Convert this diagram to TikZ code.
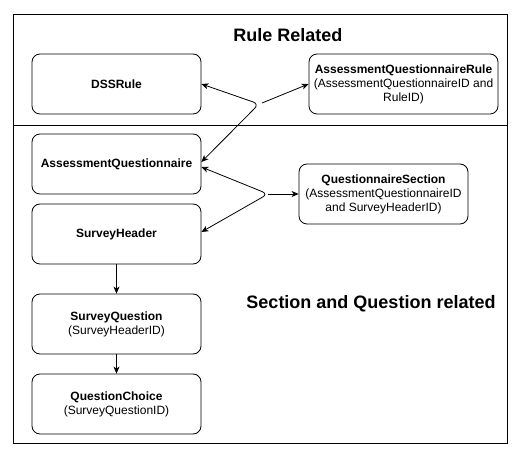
\documentclass[tikz,border=0pt]{standalone}
\usepackage{fontspec}
\setmainfont{Liberation Sans}
\usetikzlibrary{arrows.meta}
\begin{document}
\begin{tikzpicture}[x=1pt,y=-1pt,
  entity/.style={draw, rounded corners=8pt, minimum width=169pt, minimum height=60pt,
    align=center, font=\fontsize{12}{14}\selectfont, inner sep=2pt, line width=0.8pt},
  conn/.style={line width=0.8pt, -{Stealth[length=7pt,width=6pt,inset=2pt]}},
  title/.style={font=\fontsize{18}{21}\selectfont\bfseries}]
\useasboundingbox (0,0) rectangle (528,462);
\draw[line width=0.8pt] (13,14) rectangle (507,443);
\draw[line width=0.8pt] (13,125) -- (507,125);
\node[title] (t1) at (288,35) {Rule Related};
\node[title] (t2) at (371,304) {Section and Question related};
\node[entity] (dss) at (116.5,84) {\textbf{DSSRule}};
\node[entity, minimum width=189pt] (aqr) at (403.5,84) {\textbf{AssessmentQuestionnaireRule}\\(AssessmentQuestionnaireID and\\RuleID)};
\node[entity] (aq) at (116.5,164) {\textbf{AssessmentQuestionnaire}};
\node[entity] (sh) at (116.5,234) {\textbf{SurveyHeader}};
\node[entity] (sq) at (116.5,324) {\textbf{SurveyQuestion}\\(SurveyHeaderID)};
\node[entity] (qc) at (116.5,404) {\textbf{QuestionChoice}\\(SurveyQuestionID)};
\node[entity] (qs) at (383.5,194) {\textbf{QuestionnaireSection}\\(AssessmentQuestionnaireID\\and SurveyHeaderID)};
\coordinate (j1) at (259,104);
\coordinate (j1b) at (262,103);
\coordinate (j2) at (268,194);
\draw[conn, {Stealth[length=7pt,width=6pt,inset=2pt]}-{Stealth[length=7pt,width=6pt,inset=2pt]}, rounded corners=6pt] (dss.east) -- (j1) -- ([yshift=2pt]aq.east);
\draw[conn] (j1b) -- (aqr.west);
\draw[conn, {Stealth[length=7pt,width=6pt,inset=2pt]}-{Stealth[length=7pt,width=6pt,inset=2pt]}, rounded corners=6pt] ([yshift=-3pt]aq.east) -- (j2) -- ([yshift=2pt]sh.east);
\draw[conn] (j2) -- (qs.west);
\draw[conn] (sh.south) -- (sq.north);
\draw[conn] (sq.south) -- (qc.north);
\end{tikzpicture}
\end{document}
